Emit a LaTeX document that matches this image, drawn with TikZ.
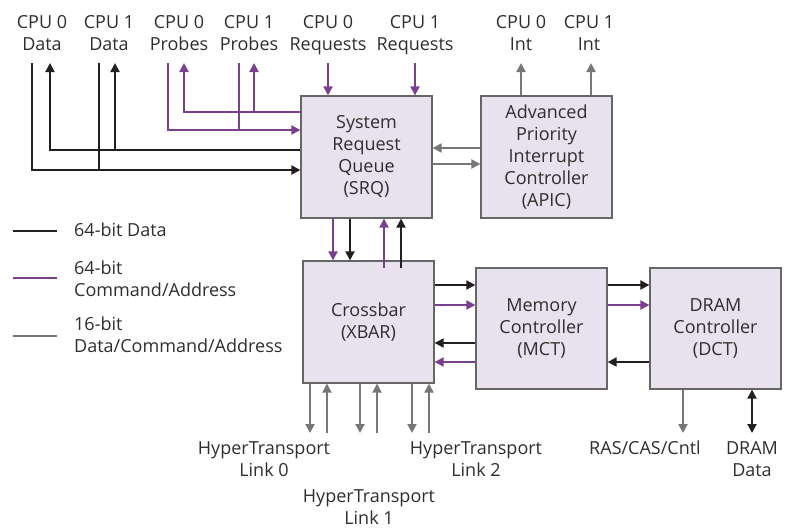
\documentclass[tikz,border=0pt]{standalone}
\usepackage{fontspec}
\setmainfont{Open Sans}
\usetikzlibrary{arrows.meta}
\definecolor{dk}{HTML}{231F20}
\definecolor{pu}{HTML}{7B3F8F}
\definecolor{gy}{HTML}{777777}
\definecolor{bd}{HTML}{666666}
\definecolor{bx}{HTML}{E8E2EE}
\definecolor{tx}{HTML}{2E2E2E}
\begin{document}
\begin{tikzpicture}[x=1pt,y=-1pt,
  >={Triangle[length=9pt,width=9pt]},
  wire/.style={line width=2pt},
  dat/.style={wire,draw=dk},
  cmd/.style={wire,draw=pu},
  gry/.style={wire,draw=gy},
  txt/.style={text=tx,font=\fontsize{18pt}{22pt}\selectfont,inner sep=0pt,align=center},
  box/.style={txt,draw=bd,fill=bx,line width=1.2pt,minimum width=131pt,minimum height=122pt}]
\useasboundingbox (0,0) rectangle (794,527);

% boxes
\node[box] (srq)  at (366.5,157) {System\\Request\\Queue\\(SRQ)};
\node[box] (apic) at (546.5,157) {Advanced\\Priority\\Interrupt\\Controller\\(APIC)};
\node[box] (xbar) at (368.5,322) {Crossbar\\(XBAR)};
\node[box,minimum height=121pt] (mct) at (541.5,328.5) {Memory\\Controller\\(MCT)};
\node[box,minimum height=121pt] (dct) at (715.5,328.5) {DRAM\\Controller\\(DCT)};

% top labels
\node[txt,anchor=north] (c0d) at (42,15)  {CPU 0\\Data};
\node[txt,anchor=north] (c1d) at (109,15) {CPU 1\\Data};
\node[txt,anchor=north] (c0p) at (179,15) {CPU 0\\Probes};
\node[txt,anchor=north] (c1p) at (249,15) {CPU 1\\Probes};
\node[txt,anchor=north] (c0r) at (328,15) {CPU 0\\Requests};
\node[txt,anchor=north] (c1r) at (415,15) {CPU 1\\Requests};
\node[txt,anchor=north] (c0i) at (521,15) {CPU 0\\Int};
\node[txt,anchor=north] (c1i) at (589,15) {CPU 1\\Int};

% bottom labels
\node[txt,anchor=north] (ht0) at (264,441) {HyperTransport\\Link 0};
\node[txt,anchor=north] (ht1) at (369,489) {HyperTransport\\Link 1};
\node[txt,anchor=north] (ht2) at (476,441) {HyperTransport\\Link 2};
\node[txt,anchor=north] (ras) at (645,441) {RAS/CAS/Cntl};
\node[txt,anchor=north] (dd)  at (752,441) {DRAM\\Data};

% legend
\draw[dat] (13,231) -- (57,231);
\node[txt,anchor=base west,align=left] (lg1) at (74,236) {64-bit Data};
\draw[cmd] (13,278) -- (57,278);
\node[txt,anchor=north west,align=left] (lg2) at (74,261) {64-bit\\Command/Address};
\draw[gry] (13,336) -- (57,336);
\node[txt,anchor=north west,align=left] (lg3) at (74,317) {16-bit\\Data/Command/Address};

% CPU data
\draw[dat,->] (32,63) |- (srq.west |- 0,170);
\draw[dat] (99,63) -- (99,170);
\draw[dat,->] (srq.west |- 0,150) -| (50,63);
\draw[dat,->] (115,150) -- (115,63);
% CPU probes
\draw[cmd,->] (168,63) |- (srq.west |- 0,130);
\draw[cmd] (239,63) -- (239,130);
\draw[cmd,->] (srq.west |- 0,112) -| (184,63);
\draw[cmd,->] (254,112) -- (254,63);
% requests
\draw[cmd,->] (328,63) -- (srq.north -| 328,0);
\draw[cmd,->] (415,63) -- (srq.north -| 415,0);
% interrupts
\draw[gry,->] (apic.north -| 521,0) -- (521,63);
\draw[gry,->] (apic.north -| 591,0) -- (591,63);
% SRQ <-> APIC
\draw[gry,->] (apic.west |- 0,148) -- (srq.east |- 0,148);
\draw[gry,->] (srq.east |- 0,164) -- (apic.west |- 0,164);
% SRQ <-> XBAR
\draw[cmd,->] (srq.south -| 333,0) -- (xbar.north -| 333,0);
\draw[dat,->] (srq.south -| 350,0) -- (xbar.north -| 350,0);
\draw[cmd,->] (384,268) -- (srq.south -| 384,0);
\draw[dat,->] (401,268) -- (srq.south -| 401,0);
% XBAR <-> MCT
\draw[dat,->] (xbar.east |- 0,285) -- (mct.west |- 0,285);
\draw[cmd,->] (xbar.east |- 0,305) -- (mct.west |- 0,305);
\draw[dat,->] (mct.west |- 0,343) -- (xbar.east |- 0,343);
\draw[cmd,->] (mct.west |- 0,362) -- (xbar.east |- 0,362);
% MCT <-> DCT
\draw[dat,->] (mct.east |- 0,285) -- (dct.west |- 0,285);
\draw[cmd,->] (mct.east |- 0,305) -- (dct.west |- 0,305);
\draw[dat,->] (dct.west |- 0,362) -- (mct.east |- 0,362);
% HyperTransport links
\draw[gry,->] (xbar.south -| 310,0) -- (310,433);
\draw[gry,->] (327,433) -- (xbar.south -| 327,0);
\draw[gry,->] (xbar.south -| 360,0) -- (360,433);
\draw[gry,->] (377,433) -- (xbar.south -| 377,0);
\draw[gry,->] (xbar.south -| 412,0) -- (412,433);
\draw[gry,->] (429,433) -- (xbar.south -| 429,0);
% DRAM
\draw[gry,->] (dct.south -| 683,0) -- (683,433);
\draw[dat,<->] (dct.south -| 752,0) -- (752,433);
\end{tikzpicture}
\end{document}
